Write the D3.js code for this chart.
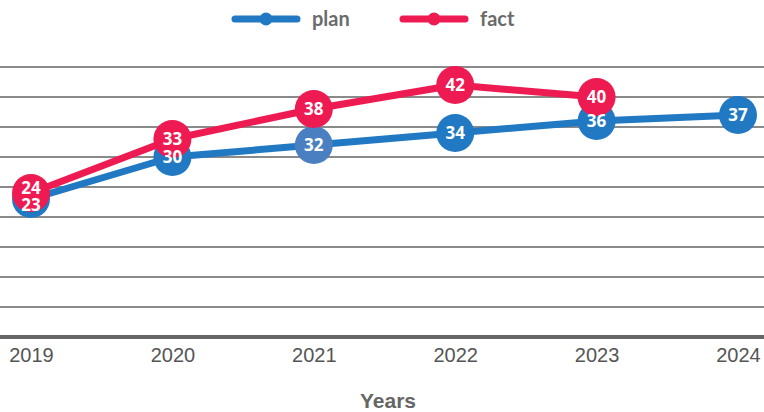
<!DOCTYPE html>
<html>
<head>
<meta charset="utf-8">
<script src="https://cdn.jsdelivr.net/npm/d3@7/dist/d3.min.js"></script>
<style>
  html, body { margin: 0; padding: 0; background: #fff; }
  svg { display: block; }
</style>
</head>
<body>
<svg id="chart" width="764" height="412"></svg>
<script>
// Yearly values: plan vs fact
const years = ["2019", "2020", "2021", "2022", "2023", "2024"];
const planValues = [23, 30, 32, 34, 36, 37];
const factValues = [24, 33, 38, 42, 40, null];
const seriesNames = ["plan", "fact"];
const gridTicks = [0, 5, 10, 15, 20, 25, 30, 35, 40, 45];
const axisTitle = "Years";

const W = 764, H = 412;
const colors = { plan: "#2179c3", fact: "#ee1a52" };
const planActiveColor = "#4a80c2";   // 2021 plan point shown in the active tint
const activeYear = "2021";

const svg = d3.select("#chart");

const x = d3.scalePoint().domain(years).range([31, 738]);
const y = d3.scaleLinear().domain([0, 45]).range([337, 67]);

// Horizontal grid
const grid = svg.append("g");
grid.selectAll("line.grid")
  .data(gridTicks.filter(t => t > 0))
  .join("line")
  .attr("x1", 0).attr("x2", W)
  .attr("y1", d => y(d)).attr("y2", d => y(d))
  .attr("stroke", "#8a8a8a").attr("stroke-width", 2);

// Category axis along the zero line
const xAxis = d3.axisBottom(x).tickSize(0).tickPadding(11);
const gx = svg.append("g").attr("transform", `translate(0,${y(0)})`).call(xAxis);
gx.select(".domain").remove();
gx.append("line")
  .attr("x1", 0).attr("x2", W).attr("y1", 0).attr("y2", 0)
  .attr("stroke", "#666").attr("stroke-width", 4);
gx.selectAll(".tick text")
  .attr("font-family", "'Liberation Sans Narrow', 'Arial Narrow', sans-serif")
  .attr("font-size", 20)
  .attr("fill", "#555");

svg.append("text")
  .attr("x", 388).attr("y", 408)
  .attr("text-anchor", "middle")
  .attr("font-family", "'Liberation Sans Narrow', sans-serif")
  .attr("font-weight", "bold")
  .attr("font-size", 21)
  .attr("fill", "#666")
  .text(axisTitle);

const series = [
  { name: "plan", values: planValues },
  { name: "fact", values: factValues }
];

const line = d3.line()
  .defined(d => d.v != null)
  .x(d => x(d.year))
  .y(d => y(d.v));

const pts = s => years.map((year, i) => ({ year, v: s.values[i], name: s.name }))
  .filter(d => d.v != null);

// Lines and markers, fact drawn over plan
series.forEach(s => {
  const g = svg.append("g");
  g.append("path")
    .datum(pts(s))
    .attr("d", line)
    .attr("fill", "none")
    .attr("stroke", colors[s.name])
    .attr("stroke-width", 7)
    .attr("stroke-linejoin", "round");
  g.selectAll("circle")
    .data(pts(s))
    .join("circle")
    .attr("cx", d => x(d.year))
    .attr("cy", d => y(d.v))
    .attr("r", 19)
    .attr("fill", d => (s.name === "plan" && d.year === activeYear) ? planActiveColor : colors[s.name]);
});

// Value labels; when the two points sit close, spread the labels apart
const labels = [];
years.forEach((year, i) => {
  const p = planValues[i], f = factValues[i];
  let yp = p != null ? y(p) : null;
  let yf = f != null ? y(f) : null;
  if (yp != null && yf != null && Math.abs(yp - yf) < 17) {
    const mid = (yp + yf) / 2;
    if (yf <= yp) { yf = mid - 8.5; yp = mid + 8.5; } else { yf = mid + 8.5; yp = mid - 8.5; }
  }
  if (p != null) labels.push({ year, v: p, ly: yp });
  if (f != null) labels.push({ year, v: f, ly: yf });
});

svg.append("g").selectAll("text")
  .data(labels)
  .join("text")
  .attr("x", d => x(d.year))
  .attr("y", d => d.ly)
  .attr("dy", "0.36em")
  .attr("text-anchor", "middle")
  .attr("font-family", "'Open Sans', sans-serif")
  .attr("font-weight", "bold")
  .attr("font-size", 17)
  .attr("fill", "#fff")
  .text(d => d.v);

// Legend
const legend = svg.append("g");
const legendX = [235, 403];
seriesNames.forEach((name, i) => {
  const lx = legendX[i];
  legend.append("line")
    .attr("x1", lx).attr("x2", lx + 62).attr("y1", 19).attr("y2", 19)
    .attr("stroke", colors[name]).attr("stroke-width", 7)
    .attr("stroke-linecap", "round");
  legend.append("circle")
    .attr("cx", lx + 31).attr("cy", 19).attr("r", 6.5)
    .attr("fill", colors[name]);
  legend.append("text")
    .attr("x", lx + 77).attr("y", 26)
    .attr("font-family", "Lato, sans-serif")
    .attr("font-weight", "bold")
    .attr("font-size", 20)
    .attr("fill", "#6b6b6b")
    .text(name);
});
</script>
</body>
</html>
